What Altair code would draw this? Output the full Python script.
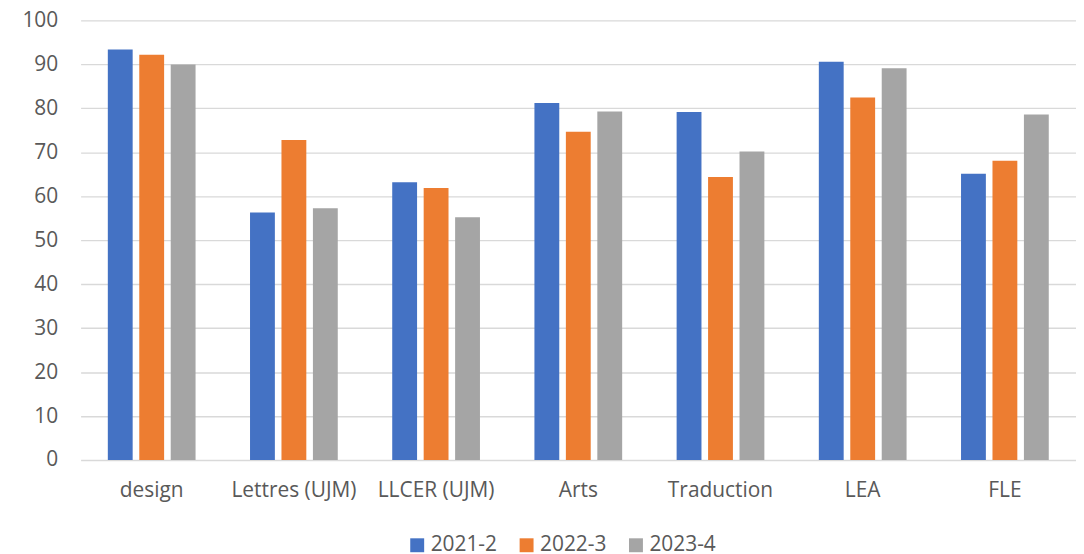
import altair as alt
import pandas as pd

categories = ["design", "Lettres (UJM)", "LLCER (UJM)", "Arts", "Traduction", "LEA", "FLE"]
years = ["2021-2", "2022-3", "2023-4"]
v2021 = [93.4, 56.3, 63.2, 81.2, 79.2, 90.6, 65.1]
v2022 = [92.2, 72.8, 61.9, 74.7, 64.4, 82.5, 68.1]
v2023 = [90.0, 57.3, 55.2, 79.3, 70.2, 89.1, 78.6]
colors = ["#4472C4", "#ED7D31", "#A5A5A5"]

rows = []
for series, vals in zip(years, [v2021, v2022, v2023]):
    for c, v in zip(categories, vals):
        rows.append({"cat": c, "year": series, "value": v})
df = pd.DataFrame(rows)

font = "Open Sans"
fs = 21
chart = alt.Chart(df).mark_bar().encode(
    x=alt.X("cat:N", sort=categories, title=None,
            scale=alt.Scale(paddingInner=0.383, paddingOuter=0.1915),
            axis=alt.Axis(labelAngle=0, ticks=False, domain=False, labelPadding=20,
                          labelFontSize=fs, labelColor="#595959", labelFont=font)),
    xOffset=alt.XOffset("year:N", sort=years, scale=alt.Scale(paddingInner=0.21, paddingOuter=0)),
    y=alt.Y("value:Q", title=None,
            scale=alt.Scale(domain=[0, 100], nice=False),
            axis=alt.Axis(values=list(range(0, 101, 10)), ticks=False, domain=False,
                          labelPadding=23, labelFontSize=fs, labelColor="#595959",
                          labelFont=font, gridColor="#D9D9D9", gridWidth=1.3)),
    color=alt.Color("year:N", sort=years,
                    scale=alt.Scale(domain=years, range=colors),
                    legend=alt.Legend(title=None, orient="none", direction="horizontal",
                                      legendX=328, legendY=517, symbolType="square",
                                      symbolSize=196, symbolStrokeWidth=0,
                                      labelFontSize=fs, labelColor="#595959", labelFont=font,
                                      columnPadding=19, labelOffset=3)),
).properties(
    width=1001, height=442,
    autosize=alt.AutoSizeParams(type="none"),
    padding={"left": 73, "top": 11, "right": 0, "bottom": 93},
).configure_view(stroke=None)

chart.save("out.html", embed_options={"renderer": "svg", "actions": False})
